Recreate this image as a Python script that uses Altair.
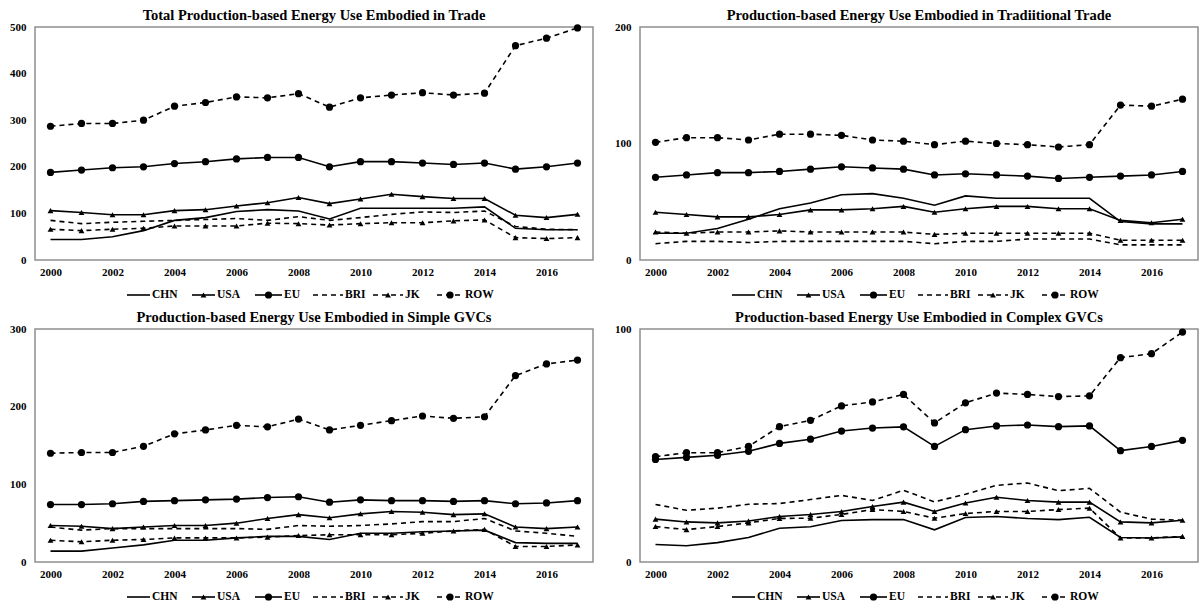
import altair as alt
import pandas as pd

YEARS = list(range(2000, 2018))
SERIES = ["CHN", "USA", "EU", "BRI", "JK", "ROW"]

# Panel 1: Total
TOTAL = {
    "CHN": [44, 44, 50, 63, 85, 91, 104, 108, 105, 88, 111, 111, 111, 111, 114, 68, 65, 65],
    "USA": [106, 102, 97, 97, 106, 108, 116, 123, 134, 121, 131, 141, 136, 132, 132, 96, 91, 98],
    "EU": [188, 193, 198, 200, 207, 211, 217, 220, 220, 200, 211, 211, 208, 205, 208, 195, 200, 208],
    "BRI": [85, 78, 81, 83, 85, 87, 89, 85, 93, 85, 91, 98, 103, 102, 105, 72, 66, 65],
    "JK": [66, 63, 66, 68, 73, 73, 73, 79, 78, 75, 78, 80, 80, 84, 86, 48, 46, 48],
    "ROW": [287, 293, 293, 300, 330, 338, 350, 348, 357, 328, 348, 354, 359, 354, 358, 460, 476, 498],
}
# Panel 2: Traditional trade
TRAD = {
    "CHN": [23, 23, 27, 35, 44, 49, 56, 57, 53, 47, 55, 53, 53, 53, 53, 33, 31, 31],
    "USA": [41, 39, 37, 37, 39, 43, 43, 44, 46, 41, 44, 46, 46, 44, 44, 34, 32, 35],
    "EU": [71, 73, 75, 75, 76, 78, 80, 79, 78, 73, 74, 73, 72, 70, 71, 72, 73, 76],
    "BRI": [14, 16, 16, 15, 16, 16, 16, 16, 16, 14, 16, 16, 18, 18, 18, 13, 13, 13],
    "JK": [24, 23, 24, 24, 25, 24, 24, 24, 24, 22, 23, 23, 23, 23, 23, 17, 17, 17],
    "ROW": [101, 105, 105, 103, 108, 108, 107, 103, 102, 99, 102, 100, 99, 97, 99, 133, 132, 138],
}
# Panel 3: Simple GVCs
SIMPLE = {
    "CHN": [14, 14, 18, 22, 28, 28, 31, 33, 33, 29, 37, 37, 39, 40, 41, 25, 24, 24],
    "USA": [47, 46, 43, 45, 47, 47, 50, 56, 61, 57, 62, 65, 64, 61, 62, 45, 43, 45],
    "EU": [74, 74, 75, 78, 79, 80, 81, 83, 84, 77, 80, 79, 79, 78, 79, 75, 76, 79],
    "BRI": [45, 41, 43, 43, 43, 43, 43, 42, 47, 46, 47, 49, 52, 52, 56, 40, 37, 33],
    "JK": [28, 26, 28, 29, 31, 31, 31, 32, 34, 35, 35, 35, 37, 40, 42, 20, 20, 22],
    "ROW": [140, 141, 141, 149, 165, 170, 176, 174, 184, 170, 176, 182, 188, 185, 187, 240, 255, 260],
}
# Panel 4: Complex GVCs
COMPLEX = {
    "CHN": [7.5, 7.0, 8.3, 10.5, 14.5, 15.1, 17.8, 18.2, 18.2, 13.8, 19.1, 19.5, 18.7, 18.2, 19.2, 10.5, 10.3, 10.8],
    "USA": [18.4, 17.2, 16.8, 17.6, 19.5, 20.4, 21.7, 23.8, 25.7, 21.7, 25.3, 27.8, 26.4, 25.7, 25.7, 17.2, 16.8, 17.9],
    "EU": [44.0, 44.9, 45.8, 47.5, 50.9, 52.7, 56.2, 57.5, 58.0, 49.6, 56.8, 58.4, 58.8, 58.1, 58.4, 47.8, 49.6, 52.2],
    "BRI": [24.7, 22.2, 23.1, 24.8, 25.1, 26.8, 28.6, 26.4, 30.8, 25.8, 29.1, 32.9, 33.9, 30.6, 31.6, 21.4, 18.4, 17.9],
    "JK": [15.2, 13.9, 15.2, 16.8, 18.7, 18.8, 20.4, 22.5, 21.7, 18.8, 20.8, 21.7, 21.7, 22.5, 23.1, 10.3, 10.3, 11.0],
    "ROW": [45.2, 46.9, 46.9, 49.6, 58.1, 60.8, 67.0, 68.7, 71.9, 59.7, 68.3, 72.5, 71.9, 71.0, 71.3, 87.7, 89.4, 98.7],
}

TITLES = [
    "Total Production-based Energy Use Embodied in Trade",
    "Production-based Energy Use Embodied in Tradiitional Trade",
    "Production-based Energy Use Embodied in Simple GVCs",
    "Production-based Energy Use Embodied in Complex GVCs",
]

SOLID = ["CHN", "USA", "EU"]
DASHED = ["BRI", "JK", "ROW"]
TRIANGLES = ["USA", "JK"]
CIRCLES = ["EU", "ROW"]

# legend layout (pixel offsets from plot's left edge)
LEG_X0 = [92, 157, 220, 278, 338, 402]
LEG_X1 = [115, 180, 247, 308, 368, 428]

W, H = 558, 233
FONT = "Liberation Serif"
DASH = [5, 4]
TRI_SIZE = 34
CIRC_SIZE = 52


def to_df(d):
    rows = []
    for s in SERIES:
        for y, v in zip(YEARS, d[s]):
            rows.append({"year": y, "series": s, "value": v})
    return pd.DataFrame(rows)


def legend_df():
    return pd.DataFrame({
        "series": SERIES,
        "lx": LEG_X0,
        "lx2": LEG_X1,
        "mx": [(a + b) / 2 for a, b in zip(LEG_X0, LEG_X1)],
        "tx": [b + 2 for b in LEG_X1],
    })


def panel(title, d, ymax, yticks):
    df = to_df(d)
    base = alt.Chart(df).encode(
        x=alt.X("year:Q",
                scale=alt.Scale(domain=[1999.5, 2017.5], nice=False, zero=False),
                axis=alt.Axis(values=list(range(2000, 2017, 2)), format="d", title=None,
                              grid=False, ticks=False, domain=False, labelPadding=6,
                              labelFont=FONT, labelFontSize=11, labelFontWeight="bold",
                              labelColor="black", labelFlush=False)),
        y=alt.Y("value:Q",
                scale=alt.Scale(domain=[0, ymax], nice=False),
                axis=alt.Axis(values=yticks, title=None, grid=False, ticks=False,
                              domain=False, labelPadding=9, labelFont=FONT,
                              labelFontSize=11, labelFontWeight="bold", labelColor="black")),
    )
    solid = base.transform_filter(
        alt.FieldOneOfPredicate(field="series", oneOf=SOLID)
    ).mark_line(color="black", strokeWidth=1.6).encode(detail="series:N")
    dashed = base.transform_filter(
        alt.FieldOneOfPredicate(field="series", oneOf=DASHED)
    ).mark_line(color="black", strokeWidth=1.6, strokeDash=DASH).encode(detail="series:N")
    tri = base.transform_filter(
        alt.FieldOneOfPredicate(field="series", oneOf=TRIANGLES)
    ).mark_point(shape="triangle-up", filled=True, color="black", size=TRI_SIZE, opacity=1)
    circ = base.transform_filter(
        alt.FieldOneOfPredicate(field="series", oneOf=CIRCLES)
    ).mark_point(shape="circle", filled=True, color="black", size=CIRC_SIZE, opacity=1)
    data_layer = alt.layer(solid, dashed, tri, circ)

    lg = alt.Chart(legend_df())
    ly = alt.value(H + 35)
    leg_solid = lg.transform_filter(
        alt.FieldOneOfPredicate(field="series", oneOf=SOLID)
    ).mark_rule(color="black", strokeWidth=1.6).encode(
        x=alt.X("lx:Q", scale=None, axis=None), x2="lx2:Q", y=ly)
    leg_dash = lg.transform_filter(
        alt.FieldOneOfPredicate(field="series", oneOf=DASHED)
    ).mark_rule(color="black", strokeWidth=1.6, strokeDash=DASH).encode(
        x=alt.X("lx:Q", scale=None, axis=None), x2="lx2:Q", y=ly)
    leg_tri = lg.transform_filter(
        alt.FieldOneOfPredicate(field="series", oneOf=TRIANGLES)
    ).mark_point(shape="triangle-up", filled=True, color="black", size=TRI_SIZE, opacity=1).encode(
        x=alt.X("mx:Q", scale=None, axis=None), y=ly)
    leg_circ = lg.transform_filter(
        alt.FieldOneOfPredicate(field="series", oneOf=CIRCLES)
    ).mark_point(shape="circle", filled=True, color="black", size=CIRC_SIZE, opacity=1).encode(
        x=alt.X("mx:Q", scale=None, axis=None), y=ly)
    leg_text = lg.mark_text(align="left", baseline="middle", font=FONT, fontSize=11.5,
                            fontWeight="bold", color="black").encode(
        x=alt.X("tx:Q", scale=None, axis=None), y=ly, text="series:N")

    return alt.layer(data_layer, leg_solid, leg_dash, leg_tri, leg_circ, leg_text).resolve_scale(
        x="independent"
    ).properties(
        width=W, height=H,
        title=alt.TitleParams(title, font=FONT, fontSize=14.5, fontWeight="bold",
                              color="black", anchor="middle", offset=-2),
    )


p1 = panel(TITLES[0], TOTAL, 500, [0, 100, 200, 300, 400, 500])
p2 = panel(TITLES[1], TRAD, 200, [0, 100, 200])
p3 = panel(TITLES[2], SIMPLE, 300, [0, 100, 200, 300])
p4 = panel(TITLES[3], COMPLEX, 100, [0, 100])

chart = alt.concat(p1, p2, p3, p4, columns=2, spacing={"row": 69, "column": 47},
                   bounds="flush").properties(
    padding={"left": 8, "top": 6, "right": 0, "bottom": 0},
    background="white",
).configure_view(stroke="#8f8f8f", strokeWidth=1.5)

chart.save("out.html", embed_options={"renderer": "svg", "actions": False})
